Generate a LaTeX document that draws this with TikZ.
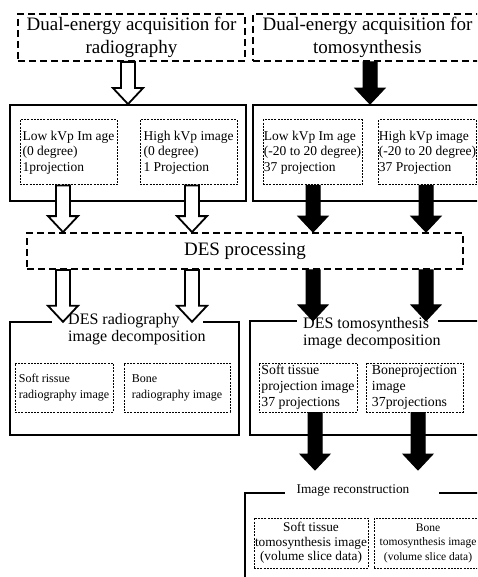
\documentclass[tikz,border=0pt]{standalone}
\usepackage{fontspec}
\setmainfont{Liberation Serif}
\usetikzlibrary{calc}

% block arrow pointing down: style, start point, point giving the tip height
\newcommand{\bigarrow}[3]{%
  \draw[#1] let \p1=(#2), \p2=(#3) in
    (\x1-7pt,\y1) -- (\x1-7pt,\y2+16pt) -- (\x1-15pt,\y2+16pt) -- (\x1,\y2)
    -- (\x1+15pt,\y2+16pt) -- (\x1+7pt,\y2+16pt) -- (\x1+7pt,\y1) -- cycle;}

\begin{document}
\begin{tikzpicture}[x=1pt, y=-1pt,
    % Styles
    acqbox/.style={draw, line width=1.8pt, dash pattern=on 7pt off 4pt, align=center, inner sep=0pt, font=\fontsize{19}{23}\selectfont},
    group/.style={draw, line width=1.8pt, inner sep=0pt},
    area/.style={inner sep=0pt},
    gframe/.style={line width=1.8pt},
    imgbox/.style={draw, line width=1pt, dash pattern=on 2pt off 1.2pt, align=left, inner sep=0pt},
    areattl/.style={inner sep=0pt, align=left, font=\fontsize{16}{17}\selectfont},
    openarrow/.style={draw, line width=1.8pt, fill=white},
    fullarrow/.style={draw, line width=1pt, fill=black}
]
    \useasboundingbox (0,0) rectangle (477,577);
    \clip (0,0) rectangle (477,577);

    % Acquisition
    \node[acqbox, minimum width=227pt, minimum height=47pt] (acqRad) at (131.5,37.5) {Dual-energy acquisition for\\radiography};
    \node[acqbox, minimum width=229pt, minimum height=47pt] (acqTomo) at (367.5,37.5) {Dual-energy acquisition for\\tomosynthesis};

    % Low / high kVp images
    \node[group, minimum width=236pt, minimum height=96pt] (grpRad) at (128,153) {};
    \node[group, minimum width=232pt, minimum height=96pt] (grpTomo) at (369,153) {};
    \begin{scope}[every node/.append style={imgbox, minimum height=65pt, font=\fontsize{13.5}{15.5}\selectfont}]
        \node[minimum width=97pt] (lowRad) at (68.5,152.5) {Low kVp Im age\\(0 degree)\\1projection};
        \node[minimum width=97pt] (highRad) at (188.5,152.5) {High kVp image\\(0 degree)\\1 Projection};
        \node[minimum width=99pt] (lowTomo) at (312.5,152.5) {Low kVp Im age\\(-20 to 20 degree)\\37 projection};
        \node[minimum width=95pt] (highTomo) at (427.5,152.5) {High kVp image\\(-20 to 20 degree)\\37 Projection};
    \end{scope}

    % DES processing
    \node[acqbox, minimum width=436pt, minimum height=36pt] (des) at (245,251) {DES processing};

    % Decomposition
    \node[area, minimum width=229pt, minimum height=113pt] (decRad) at (124.5,378.5) {};
    \node[area, minimum width=240pt, minimum height=114pt] (decTomo) at (370,378) {};
    \node[areattl, anchor=west] (ttlRad) at (68,329) {DES radiography\\image decomposition};
    \node[areattl, anchor=west] (ttlTomo) at (303,333.5) {DES tomosynthesis\\image decomposition};
    \draw[gframe] ([xshift=42pt]decRad.north west) -- (decRad.north west) -- (decRad.south west)
        -- (decRad.south east) -- (decRad.north east) -- ++(-36,0);
    \draw[gframe] ([xshift=47pt]decTomo.north west) -- (decTomo.north west) -- (decTomo.south west)
        -- (decTomo.south east) -- (decTomo.north east) -- ++(-52,0);
    \node[imgbox, minimum width=98pt, minimum height=49pt, font=\fontsize{12}{16}\selectfont] (softRad) at (64,387.5) {Soft rissue\\radiography image};
    \node[imgbox, minimum width=106pt, minimum height=49pt, font=\fontsize{12}{16}\selectfont] (boneRad) at (177,387.5) {Bone\\radiography image};
    \node[imgbox, minimum width=98pt, minimum height=49pt, font=\fontsize{13.8}{16}\selectfont] (softProj) at (308,387.5) {Soft tissue\\projection image\\37 projections};
    \node[imgbox, minimum width=97pt, minimum height=49pt, font=\fontsize{13.8}{16}\selectfont] (boneProj) at (414.5,387.5) {Boneprojection\\image\\37projections};

    % Reconstruction
    \node[area, minimum width=245pt, minimum height=110pt] (recon) at (367.5,548) {};
    \node[inner sep=0pt, font=\fontsize{13.3}{15}\selectfont] (ttlRecon) at (353,491) {Image reconstruction};
    \draw[gframe] ([xshift=40pt]recon.north west) -- (recon.north west) -- (recon.south west)
        -- (recon.south east) -- (recon.north east) -- ++(-51,0);
    \node[imgbox, align=center, minimum width=114pt, minimum height=50pt, font=\fontsize{13.3}{14.5}\selectfont] (softVol) at (311,543) {Soft tissue\\tomosynthesis image\\(volume slice data)};
    \node[imgbox, align=center, minimum width=108pt, minimum height=50pt, font=\fontsize{11.5}{14.5}\selectfont] (boneVol) at (428,543) {Bone\\tomosynthesis image\\(volume slice data)};

    % Arrow columns
    \coordinate (colA) at ([xshift=-5.5pt]lowRad.south);
    \coordinate (colB) at ([xshift=3.5pt]highRad.south);
    \coordinate (colC) at ([xshift=0.5pt]lowTomo.south);
    \coordinate (colD) at ([xshift=-1.5pt]highTomo.south);
    \coordinate (colE) at ([xshift=7pt]softProj.south);
    \coordinate (colF) at ([xshift=3.5pt]boneProj.south);
    \coordinate (reconIn) at ([yshift=21pt]ttlRecon.center);

    % Arrows
    \bigarrow{openarrow}{[xshift=-3.5pt]acqRad.south}{grpRad.north}
    \bigarrow{fullarrow}{[xshift=2.5pt]acqTomo.south}{grpTomo.north}
    \bigarrow{openarrow}{colA}{des.north}
    \bigarrow{openarrow}{colB}{des.north}
    \bigarrow{fullarrow}{colC}{des.north}
    \bigarrow{fullarrow}{colD}{des.north}
    \bigarrow{openarrow}{colA |- des.south}{decRad.north}
    \bigarrow{openarrow}{colB |- des.south}{decRad.north}
    \bigarrow{fullarrow}{colC |- des.south}{decTomo.north}
    \bigarrow{fullarrow}{colD |- des.south}{decTomo.north}
    \bigarrow{fullarrow}{colE}{reconIn}
    \bigarrow{fullarrow}{colF}{reconIn}
\end{tikzpicture}
\end{document}
